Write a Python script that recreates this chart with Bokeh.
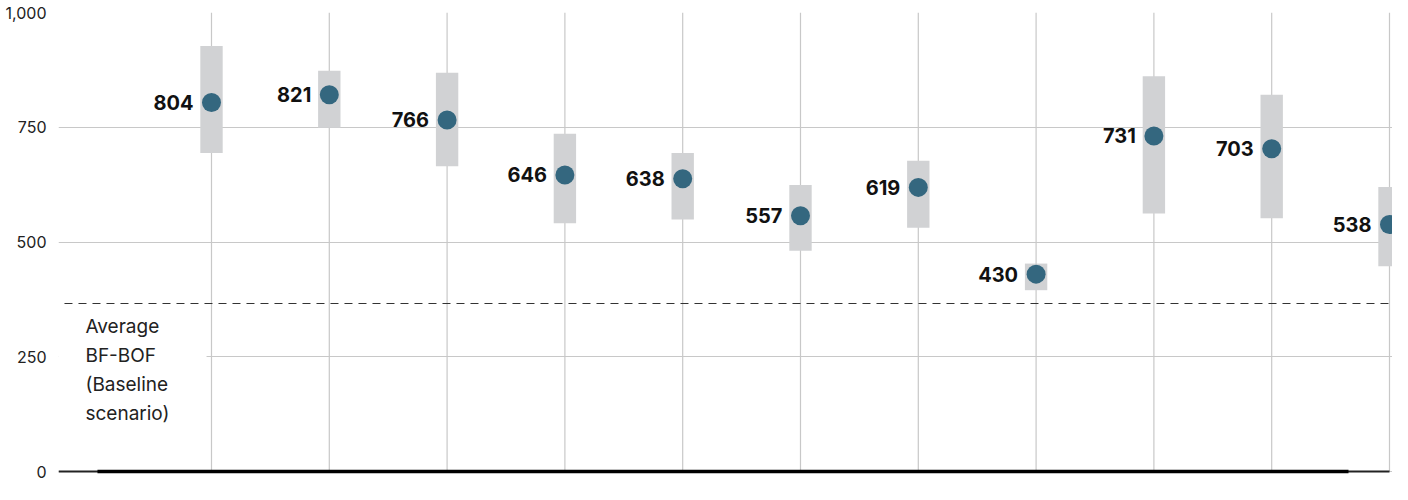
from bokeh.plotting import figure
from bokeh.models import ColumnDataSource, Range1d, FixedTicker, NumeralTickFormatter
from bokeh.core.properties import value
from bokeh.embed import file_html
from bokeh.resources import INLINE

# ---- data ----
positions = list(range(11))
values = [804, 821, 766, 646, 638, 557, 619, 430, 731, 703, 538]
low = [694, 749, 665, 541, 549, 481, 531, 395, 562, 552, 447]
high = [927, 873, 869, 736, 694, 624, 677, 453, 861, 821, 620]
labels = [str(v) for v in values]
average_baseline = 366
y_ticks = [0, 250, 500, 750, 1000]
annotation = "Average\nBF-BOF\n(Baseline\nscenario)"

FONT = "Inter"

src = ColumnDataSource(dict(x=positions, v=values, lo=low, hi=high, lab=labels,
                            g0=[y_ticks[0]] * len(positions), g1=[y_ticks[-1]] * len(positions)))

p = figure(width=1392, height=484, output_backend="svg", toolbar_location=None,
           x_range=Range1d(-1.2988, 10.0255), y_range=Range1d(-28.3, 1000),
           min_border_left=58, min_border_right=0, min_border_top=12, min_border_bottom=0)
p.outline_line_color = None
p.background_fill_color = "white"

p.xaxis.visible = False
p.xgrid.visible = False

p.yaxis.ticker = FixedTicker(ticks=y_ticks)
p.yaxis.formatter = NumeralTickFormatter(format="0,0")
p.yaxis.axis_line_color = None
p.yaxis.major_tick_line_color = None
p.yaxis.minor_tick_line_color = None
p.yaxis.major_label_standoff = 6
p.yaxis.major_label_text_font = FONT
p.yaxis.major_label_text_font_size = "16px"
p.yaxis.major_label_text_color = "#222222"
p.ygrid.grid_line_color = "#c8c8c8"
p.ygrid.grid_line_width = 1.2

# white box behind annotation
p.quad(left=[-1.31], right=[-0.042], bottom=[200], top=[340], fill_color="white", line_color=None)

# vertical gridlines (stop at the baseline)
p.segment(x0="x", x1="x", y0="g0", y1="g1", source=src, line_color="#c8c8c8", line_width=1.2)

# average line
p.segment(x0=[-1.248], x1=[10.1], y0=[average_baseline], y1=[average_baseline],
          line_color="#333333", line_width=1.2, line_dash="8 6")

p.text(x=[-1.070], y=[average_baseline], text=[annotation], text_font=value(FONT),
       text_font_size="19px", text_color="#222222", text_align="left", text_baseline="top",
       text_line_height=1.27, y_offset=11)

# baseline
p.segment(x0=[-1.2988], x1=[10.0], y0=[0], y1=[0], line_color="#222222", line_width=2)
p.segment(x0=[-0.968], x1=[9.652], y0=[0], y1=[0], line_color="#000000", line_width=3.5)

# range bars
p.vbar(x="x", bottom="lo", top="hi", width=0.19, source=src, fill_color="#d1d2d4", line_color=None)

# dots
p.scatter(x="x", y="v", size=19, source=src, fill_color="#34677f", line_color=None)

# value labels
p.text(x="x", y="v", text="lab", source=src, x_offset=-18, text_align="right",
       text_baseline="middle", text_font=value(FONT), text_font_style="bold",
       text_font_size="20px", text_color="#111111")

open("out.html", "w").write(file_html(p, INLINE))
